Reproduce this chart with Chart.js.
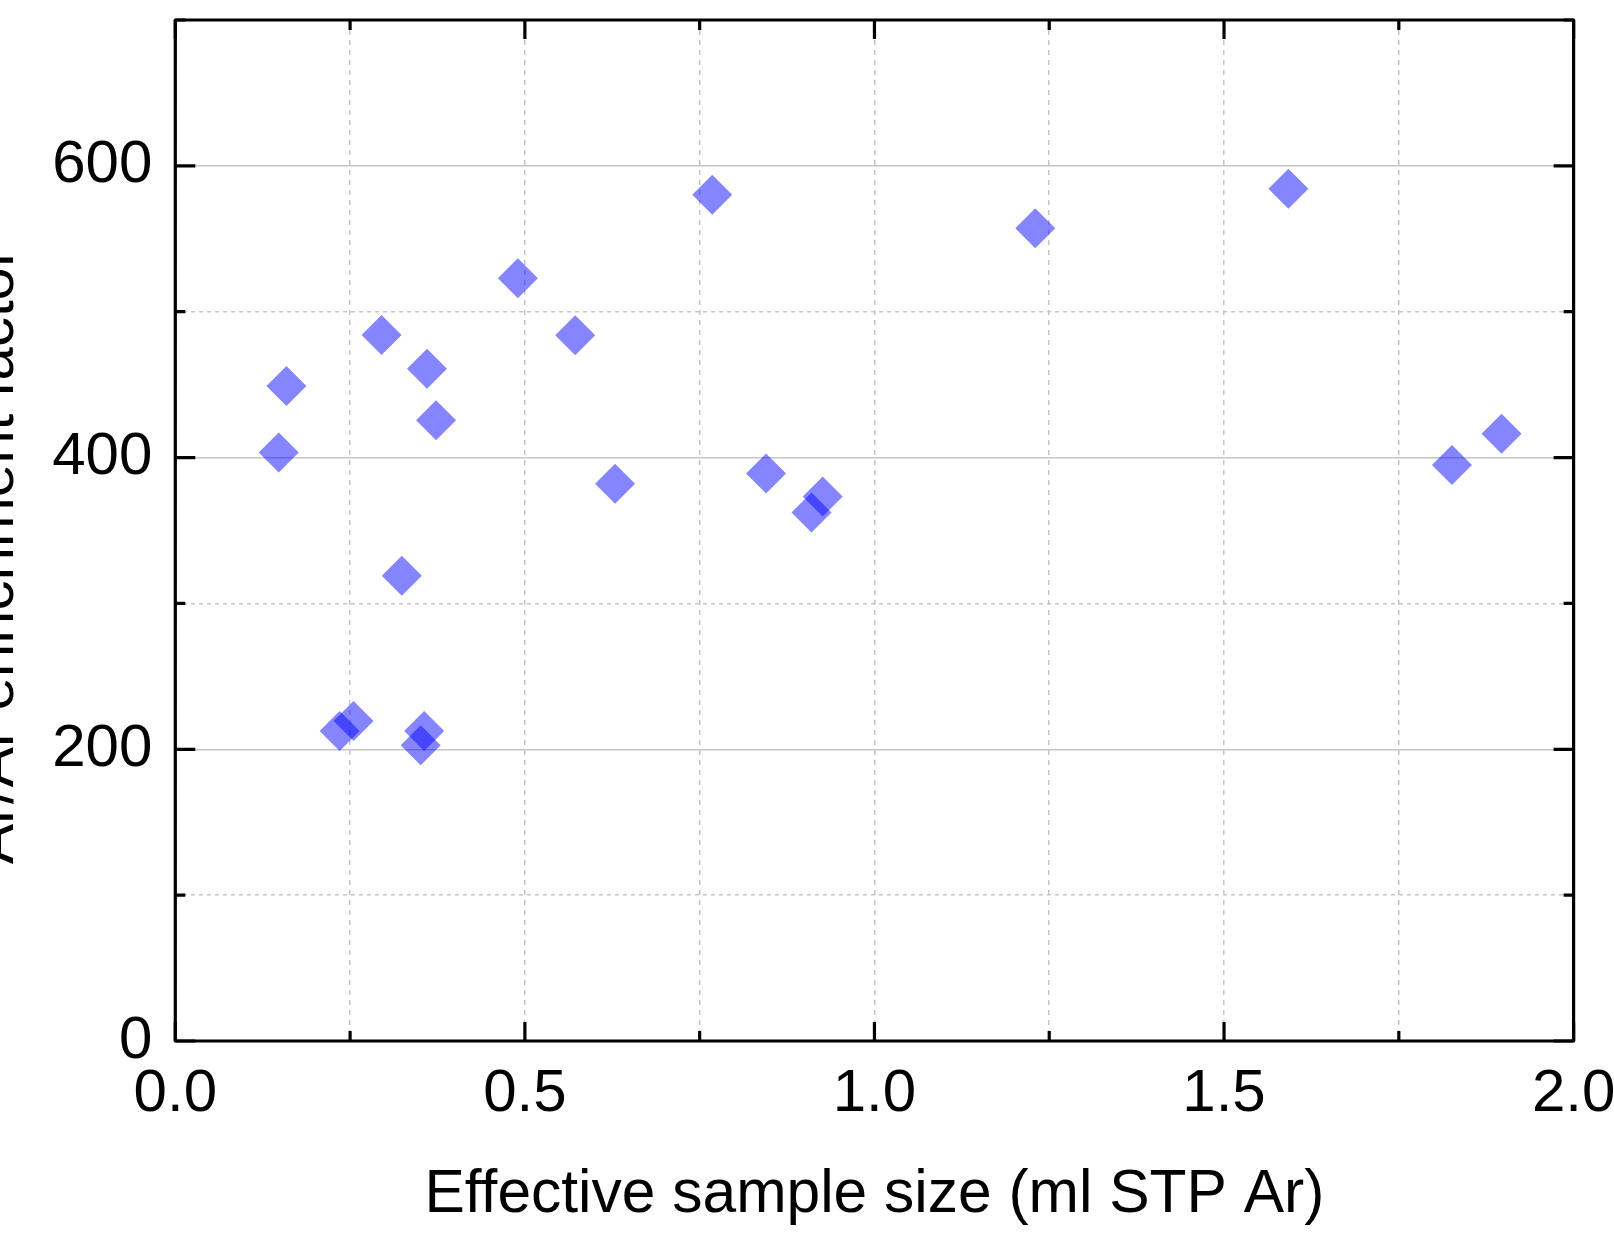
<!DOCTYPE html>
<html>
<head>
<meta charset="utf-8">
<script src="https://cdn.jsdelivr.net/npm/chart.js@4/dist/chart.umd.min.js"></script>
<style>
  html, body { margin: 0; padding: 0; background: #ffffff; }
  #wrap { width: 1614px; height: 1239px; }
</style>
</head>
<body>
<div id="wrap"><canvas id="c" width="1614" height="1239"></canvas></div>
<script>
// Effective sample size (ml STP Ar)
const xValues = [0.148, 0.159, 0.235, 0.255, 0.295, 0.324, 0.351, 0.356, 0.360, 0.373,
                 0.490, 0.572, 0.629, 0.768, 0.845, 0.910, 0.926, 1.230, 1.592, 1.826, 1.897];
// Ar/Ar enrichment factor
const yValues = [403.5, 449.1, 212.6, 219.4, 484.1, 319.0, 202.8, 212.6, 460.9, 425.6,
                 523.0, 483.8, 382.1, 580.2, 389.0, 362.3, 373.3, 557.2, 584.3, 394.9, 416.3];
const xTickLabels = ['0.0', '0.5', '1.0', '1.5', '2.0'];
const yTickLabels = ['0', '200', '400', '600'];
const xTitle = 'Effective sample size (ml STP Ar)';
const yTitle = 'Ar/Ar enrichment factor   ';

const points = xValues.map((x, i) => ({ x: x, y: yValues[i] }));
const FONT = '"Liberation Sans", Arial, Helvetica, sans-serif';
const GRID = '#c6c6c6';

const isMajorX = v => Math.abs(v * 2 - Math.round(v * 2)) < 1e-6;
const isMajorY = v => Math.abs(v / 200 - Math.round(v / 200)) < 1e-6;

const framePlugin = {
  id: 'frame',
  afterDraw(chart) {
    const ctx = chart.ctx;
    const a = chart.chartArea;
    const xs = chart.scales.x, ys = chart.scales.y;
    ctx.save();
    ctx.strokeStyle = '#000';
    ctx.lineWidth = 3.2;
    ctx.lineCap = 'butt';
    ctx.beginPath();
    xs.ticks.forEach(t => {
      const px = xs.getPixelForValue(t.value);
      const len = isMajorX(t.value) ? 19 : 10;
      ctx.moveTo(px, a.bottom); ctx.lineTo(px, a.bottom - len);
      ctx.moveTo(px, a.top); ctx.lineTo(px, a.top + len);
    });
    ys.ticks.forEach(t => {
      const py = ys.getPixelForValue(t.value);
      const len = isMajorY(t.value) ? 20 : 10;
      ctx.moveTo(a.left, py); ctx.lineTo(a.left + len, py);
      ctx.moveTo(a.right, py); ctx.lineTo(a.right - len, py);
    });
    ctx.stroke();
    ctx.lineJoin = 'round';
    ctx.strokeRect(a.left, a.top, a.right - a.left, a.bottom - a.top);
    ctx.restore();
  }
};

new Chart(document.getElementById('c'), {
  type: 'scatter',
  data: {
    datasets: [{
      data: points,
      pointStyle: 'rectRot',
      pointRadius: 20,
      pointHoverRadius: 20,
      backgroundColor: 'rgba(0,0,255,0.48)',
      borderWidth: 0
    }]
  },
  options: {
    responsive: false,
    animation: false,
    devicePixelRatio: 1,
    events: [],
    layout: { padding: { top: 16, right: 40.4, left: 0, bottom: 0 } },
    plugins: { legend: { display: false }, tooltip: { enabled: false } },
    scales: {
      x: {
        type: 'linear',
        min: 0, max: 2,
        afterFit(s) { s.height = 198; s.paddingLeft = 0; s.paddingRight = 0; },
        ticks: {
          stepSize: 0.25,
          autoSkip: false,
          maxRotation: 0,
          padding: 17,
          color: '#000',
          font: { family: FONT, size: 60 },
          callback: v => isMajorX(v) ? xTickLabels[Math.round(v * 2)] : ''
        },
        grid: {
          drawTicks: false,
          color: GRID,
          lineWidth: 1.5
        },
        border: { display: false, dash: [5, 5] },
        title: {
          display: true,
          text: xTitle,
          color: '#000',
          font: { family: FONT, size: 60.5, lineHeight: 1 },
          padding: { top: 0, bottom: 13 }
        }
      },
      y: {
        type: 'linear',
        min: 0, max: 700,
        afterFit(s) { s.width = 175.3; s.paddingTop = 0; s.paddingBottom = 0; },
        ticks: {
          stepSize: 100,
          autoSkip: false,
          padding: 23,
          color: '#000',
          font: { family: FONT, size: 60 },
          callback: v => isMajorY(v) ? yTickLabels[Math.round(v / 200)] : ''
        },
        grid: {
          drawTicks: false,
          color: GRID,
          lineWidth: 1.5
        },
        border: {
          display: false,
          dash: ctx => (ctx.tick && isMajorY(ctx.tick.value)) ? [] : [4, 4]
        },
        title: {
          display: true,
          text: yTitle,
          color: '#000',
          font: { family: FONT, size: 60, lineHeight: 1 },
          padding: { top: -33.3, bottom: 0 }
        }
      }
    }
  },
  plugins: [framePlugin]
});
</script>
</body>
</html>
